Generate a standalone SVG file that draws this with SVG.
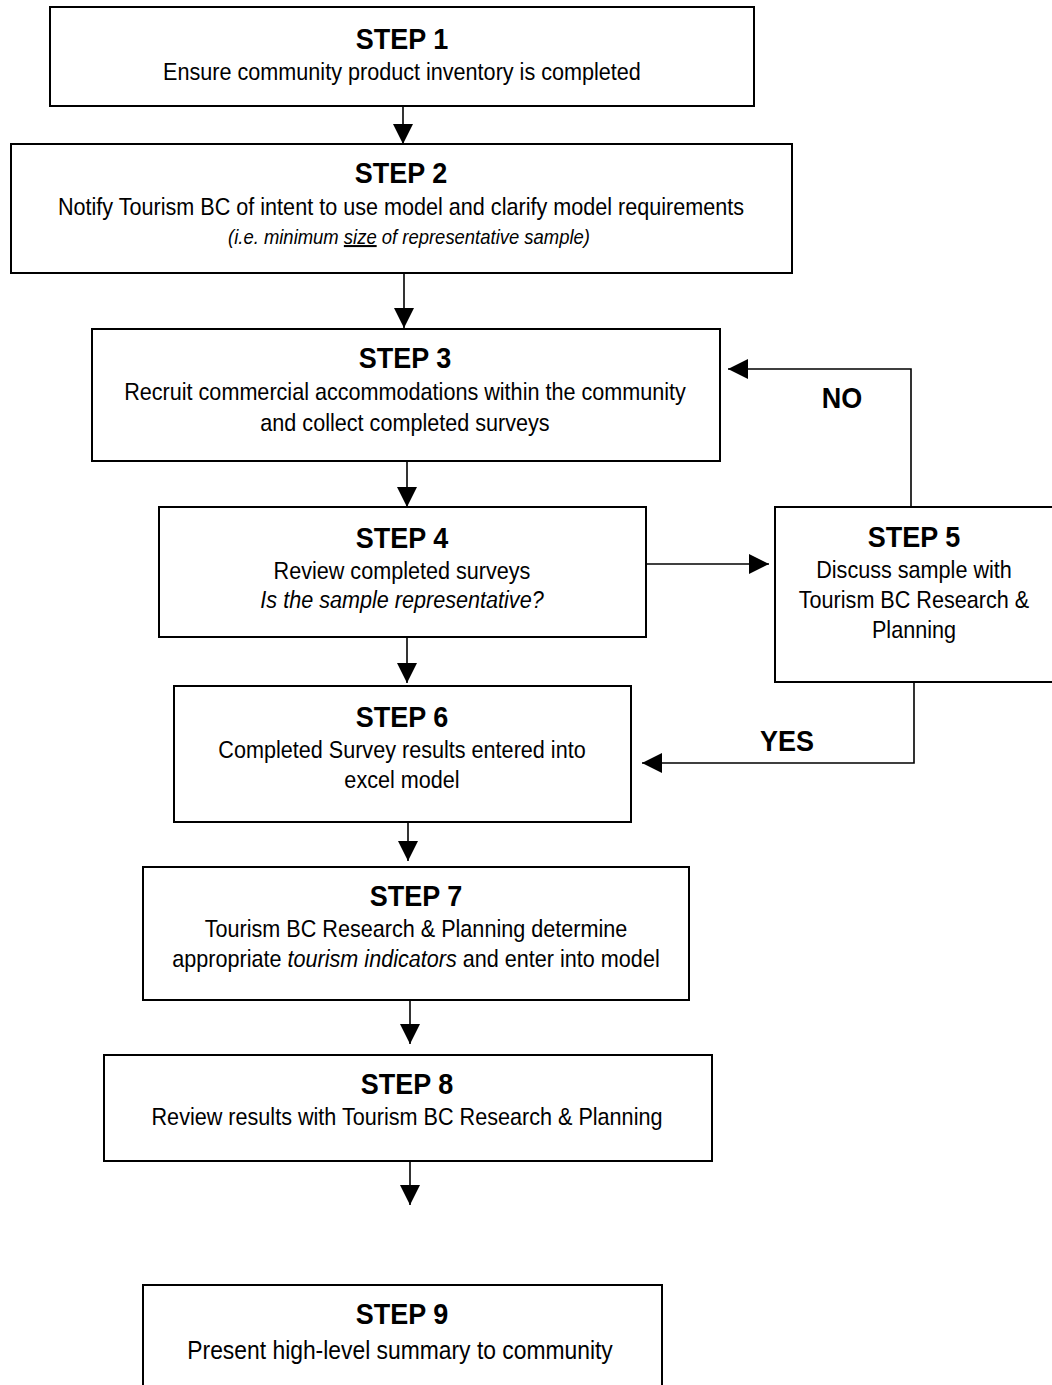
<svg xmlns="http://www.w3.org/2000/svg" width="1052" height="1385" viewBox="0 0 1052 1385">
<style>
.box{fill:#fff;stroke:#000;stroke-width:2}
.t{font-family:"Liberation Sans",Arial,sans-serif;font-size:24px;text-anchor:middle;fill:#000;transform-box:fill-box;transform-origin:center;transform:scaleX(0.9)}
.h{font-weight:bold;font-size:30px}
.i{font-style:italic}
.c{fill:none;stroke:#000;stroke-width:1.6}
</style>
<defs>
<marker id="ah" markerUnits="userSpaceOnUse" markerWidth="20" markerHeight="20" refX="20" refY="10" orient="auto">
<path d="M0,0 L20,10 L0,20 Z" fill="#000"/>
</marker>
</defs>
<rect width="1052" height="1385" fill="#fff"/>
<g id="connectors">
<path class="c" d="M403,106 V144" marker-end="url(#ah)"/>
<path class="c" d="M404,273 V328" marker-end="url(#ah)"/>
<path class="c" d="M407,461 V507" marker-end="url(#ah)"/>
<path class="c" d="M646,564 H769" marker-end="url(#ah)"/>
<path class="c" d="M911,507 V369 H728" marker-end="url(#ah)"/>
<path class="c" d="M407,637 V683" marker-end="url(#ah)"/>
<path class="c" d="M914,682 V763 H642" marker-end="url(#ah)"/>
<path class="c" d="M408,822 V861" marker-end="url(#ah)"/>
<path class="c" d="M410,1000 V1044" marker-end="url(#ah)"/>
<path class="c" d="M410,1161 V1205" marker-end="url(#ah)"/>
<text class="t h" x="842" y="408">NO</text>
<text class="t h" x="787" y="751">YES</text>
</g>
<g id="step1">
<rect class="box" x="50" y="7" width="704" height="99"/>
<text class="t h" x="402" y="49">STEP 1</text>
<text class="t" x="402" y="80">Ensure community product inventory is completed</text>
</g>
<g id="step2">
<rect class="box" x="11" y="144" width="781" height="129"/>
<text class="t h" x="401" y="183">STEP 2</text>
<text class="t" x="401" y="215">Notify Tourism BC of intent to use model and clarify model requirements</text>
<text class="t i" x="409" y="244" style="font-size:20.5px">(i.e. minimum <tspan text-decoration="underline">size</tspan> of representative sample)</text>
</g>
<g id="step3">
<rect class="box" x="92" y="329" width="628" height="132"/>
<text class="t h" x="405" y="368">STEP 3</text>
<text class="t" x="405" y="400">Recruit commercial accommodations within the community</text>
<text class="t" x="405" y="431">and collect completed surveys</text>
</g>
<g id="step4">
<rect class="box" x="159" y="507" width="487" height="130"/>
<text class="t h" x="402" y="548">STEP 4</text>
<text class="t" x="402" y="579">Review completed surveys</text>
<text class="t i" x="402" y="608">Is the sample representative?</text>
</g>
<g id="step5">
<rect class="box" x="775" y="507" width="290" height="175"/>
<text class="t h" x="914" y="547">STEP 5</text>
<text class="t" x="914" y="578">Discuss sample with</text>
<text class="t" x="914" y="608">Tourism BC Research &amp;</text>
<text class="t" x="914" y="638">Planning</text>
</g>
<g id="step6">
<rect class="box" x="174" y="686" width="457" height="136"/>
<text class="t h" x="402" y="727">STEP 6</text>
<text class="t" x="402" y="758">Completed Survey results entered into</text>
<text class="t" x="402" y="788">excel model</text>
</g>
<g id="step7">
<rect class="box" x="143" y="867" width="546" height="133"/>
<text class="t h" x="416" y="906">STEP 7</text>
<text class="t" x="416" y="937">Tourism BC Research &amp; Planning determine</text>
<text class="t" x="416" y="967">appropriate <tspan class="i">tourism indicators</tspan> and enter into model</text>
</g>
<g id="step8">
<rect class="box" x="104" y="1055" width="608" height="106"/>
<text class="t h" x="407" y="1094">STEP 8</text>
<text class="t" x="407" y="1125">Review results with Tourism BC Research &amp; Planning</text>
</g>
<g id="step9">
<rect class="box" x="143" y="1285" width="519" height="130"/>
<text class="t h" x="402" y="1324">STEP 9</text>
<text class="t" x="400" y="1359" style="font-size:25.4px">Present high-level summary to community</text>
</g>
</svg>
